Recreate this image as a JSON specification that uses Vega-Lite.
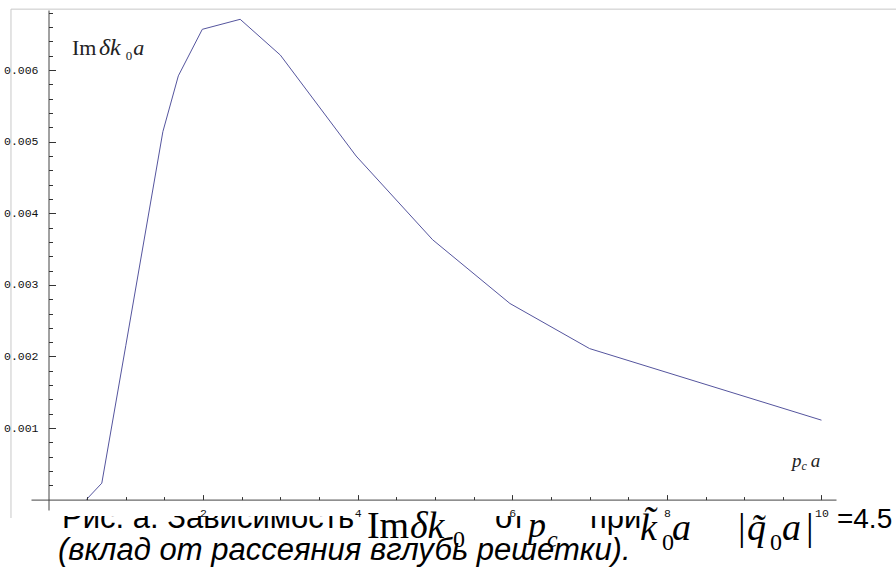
{
  "$schema": "https://vega.github.io/schema/vega-lite/v6.json",
  "width": 805,
  "height": 500,
  "autosize": {"type": "none"},
  "padding": {"left": 31, "top": 10, "right": 60, "bottom": 67},
  "background": "white",
  "config": {"view": {"stroke": null}, "axis": {"grid": false}},
  "data": {
    "values": [
      {"p": 0.49, "v": 0},
      {"p": 0.69, "v": 0.00023},
      {"p": 1.0, "v": 0.00215},
      {"p": 1.48, "v": 0.00514},
      {"p": 1.68, "v": 0.00592},
      {"p": 1.99, "v": 0.00657},
      {"p": 2.48, "v": 0.00671},
      {"p": 3.0, "v": 0.00621},
      {"p": 3.98, "v": 0.0048},
      {"p": 4.97, "v": 0.00363},
      {"p": 5.97, "v": 0.00274},
      {"p": 7.0, "v": 0.00211},
      {"p": 10.0, "v": 0.00111}
    ]
  },
  "resolve": {"axis": {"x": "independent", "y": "independent"}},
  "layer": [
    {
      "data": {"values": [{"t": "frame"}]},
      "mark": {"type": "rule", "color": "#c8c8c8", "strokeWidth": 1},
      "encoding": {
        "x": {"datum": -0.485, "type": "quantitative", "axis": null},
        "y": {"datum": 0.006852, "type": "quantitative", "axis": null},
        "y2": {"datum": -0.000257}
      }
    },
    {
      "data": {"values": [{"t": "frame"}]},
      "mark": {"type": "rule", "color": "#c8c8c8", "strokeWidth": 1},
      "encoding": {
        "x": {"datum": -0.485, "type": "quantitative", "axis": null},
        "x2": {"datum": 11.2},
        "y": {"datum": 0.006852, "type": "quantitative", "axis": null}
      }
    },
    {
      "data": {"values": [{"t": "Рис. а. Зависимость"}]},
      "mark": {"type": "text", "font": "Liberation Sans", "fontSize": 31, "align": "left", "baseline": "alphabetic", "color": "#000"},
      "encoding": {"x": {"datum": 0.175, "type": "quantitative", "axis": null}, "y": {"datum": -0.000397, "type": "quantitative", "axis": null}, "text": {"field": "t"}}
    },
    {
      "data": {"values": [{"t": "от"}]},
      "mark": {"type": "text", "font": "Liberation Sans", "fontSize": 31, "align": "left", "baseline": "alphabetic", "color": "#000"},
      "encoding": {"x": {"datum": 5.776, "type": "quantitative", "axis": null}, "y": {"datum": -0.000397, "type": "quantitative", "axis": null}, "text": {"field": "t"}}
    },
    {
      "data": {"values": [{"t": "при"}]},
      "mark": {"type": "text", "font": "Liberation Sans", "fontSize": 31, "align": "left", "baseline": "alphabetic", "color": "#000"},
      "encoding": {"x": {"datum": 7.005, "type": "quantitative", "axis": null}, "y": {"datum": -0.000397, "type": "quantitative", "axis": null}, "text": {"field": "t"}}
    },
    {
      "data": {"values": [{"t": "mask"}]},
      "mark": {"type": "rect", "color": "white"},
      "encoding": {
        "x": {"datum": -0.45, "type": "quantitative", "axis": null},
        "x2": {"datum": 10.19},
        "y": {"datum": 0, "type": "quantitative", "axis": null},
        "y2": {"datum": -0.000229}
      }
    },
    {
      "data": {"values": [{"t": "=4.5"}]},
      "mark": {"type": "text", "font": "Liberation Sans", "fontSize": 28, "align": "left", "baseline": "alphabetic", "color": "#000"},
      "encoding": {"x": {"datum": 10.2, "type": "quantitative", "axis": null}, "y": {"datum": -0.000397, "type": "quantitative", "axis": null}, "text": {"field": "t"}}
    },
    {
      "mark": {"type": "line", "color": "#55559e", "strokeWidth": 1},
      "encoding": {
        "x": {
          "field": "p", "type": "quantitative",
          "scale": {"domain": [-0.226, 10.188], "nice": false, "zero": false},
          "axis": {
            "title": null, "orient": "bottom", "offset": -10.4, "zindex": 1,
            "values": [2, 4, 6, 8, 10],
            "format": "d",
            "tickSize": -5,
            "labelPadding": 13, "labelFlush": false, "labelOverlap": false,
            "labelFont": "Liberation Mono", "labelFontSize": 11.5, "labelColor": "#111",
            "domainColor": "#444", "tickColor": "#333", "tickWidth": 1, "domainWidth": 1
          }
        },
        "y": {
          "field": "v", "type": "quantitative",
          "scale": {"domain": [-0.000145, 0.00684], "nice": false, "zero": false},
          "axis": {
            "title": null, "orient": "left", "offset": -17.5, "zindex": 1,
            "values": [0.001, 0.002, 0.003, 0.004, 0.005, 0.006],
            "format": ".3f",
            "tickSize": -7,
            "labelPadding": 17.5, "labelFlush": false, "labelOverlap": false,
            "labelFont": "Liberation Mono", "labelFontSize": 11.5, "labelColor": "#111",
            "domainColor": "#444", "tickColor": "#333", "tickWidth": 1, "domainWidth": 1
          }
        }
      }
    },
    {
      "mark": {"type": "line", "opacity": 0},
      "encoding": {
        "x": {
          "field": "p", "type": "quantitative",
          "axis": {
            "title": null, "orient": "bottom", "offset": -10.4, "zindex": 1,
            "values": [0.5, 1, 1.5, 2.5, 3, 3.5, 4.5, 5, 5.5, 6.5, 7, 7.5, 8.5, 9, 9.5],
            "labels": false, "domain": false,
            "tickSize": -3, "tickColor": "#333", "tickWidth": 1
          }
        },
        "y": {
          "field": "v", "type": "quantitative",
          "axis": {
            "title": null, "orient": "left", "offset": -17.5, "zindex": 1,
            "values": [0.0002, 0.0004, 0.0006, 0.0008, 0.0012, 0.0014, 0.0016, 0.0018, 0.0022, 0.0024, 0.0026, 0.0028, 0.0032, 0.0034, 0.0036, 0.0038, 0.0042, 0.0044, 0.0046, 0.0048, 0.0052, 0.0054, 0.0056, 0.0058, 0.0062, 0.0064, 0.0066, 0.0068],
            "labels": false, "domain": false,
            "tickSize": -4, "tickColor": "#333", "tickWidth": 1
          }
        }
      }
    },
    {
      "data": {"values": [{"t": "Im"}]},
      "mark": {"type": "text", "font": "Liberation Serif", "fontSize": 22, "align": "left", "baseline": "alphabetic", "color": "#222"},
      "encoding": {"x": {"datum": 0.304, "type": "quantitative", "axis": null}, "y": {"datum": 0.006211, "type": "quantitative", "axis": null}, "text": {"field": "t"}}
    },
    {
      "data": {"values": [{"t": "δk"}]},
      "mark": {"type": "text", "font": "Liberation Serif", "fontSize": 24, "fontStyle": "italic", "align": "left", "baseline": "alphabetic", "color": "#222"},
      "encoding": {"x": {"datum": 0.653, "type": "quantitative", "axis": null}, "y": {"datum": 0.006211, "type": "quantitative", "axis": null}, "text": {"field": "t"}}
    },
    {
      "data": {"values": [{"t": "0"}]},
      "mark": {"type": "text", "font": "Liberation Serif", "fontSize": 13, "align": "left", "baseline": "alphabetic", "color": "#222"},
      "encoding": {"x": {"datum": 1.0, "type": "quantitative", "axis": null}, "y": {"datum": 0.006141, "type": "quantitative", "axis": null}, "text": {"field": "t"}}
    },
    {
      "data": {"values": [{"t": "a"}]},
      "mark": {"type": "text", "font": "Liberation Serif", "fontSize": 22, "fontStyle": "italic", "align": "left", "baseline": "alphabetic", "color": "#222"},
      "encoding": {"x": {"datum": 1.097, "type": "quantitative", "axis": null}, "y": {"datum": 0.006211, "type": "quantitative", "axis": null}, "text": {"field": "t"}}
    },
    {
      "data": {"values": [{"t": "p"}]},
      "mark": {"type": "text", "font": "Liberation Serif", "fontSize": 19, "fontStyle": "italic", "align": "left", "baseline": "alphabetic", "color": "#222"},
      "encoding": {"x": {"datum": 9.618, "type": "quantitative", "axis": null}, "y": {"datum": 0.000455, "type": "quantitative", "axis": null}, "text": {"field": "t"}}
    },
    {
      "data": {"values": [{"t": "c"}]},
      "mark": {"type": "text", "font": "Liberation Serif", "fontSize": 12, "fontStyle": "italic", "align": "left", "baseline": "alphabetic", "color": "#222"},
      "encoding": {"x": {"datum": 9.741, "type": "quantitative", "axis": null}, "y": {"datum": 0.000413, "type": "quantitative", "axis": null}, "text": {"field": "t"}}
    },
    {
      "data": {"values": [{"t": "a"}]},
      "mark": {"type": "text", "font": "Liberation Serif", "fontSize": 19, "fontStyle": "italic", "align": "left", "baseline": "alphabetic", "color": "#222"},
      "encoding": {"x": {"datum": 9.86, "type": "quantitative", "axis": null}, "y": {"datum": 0.000455, "type": "quantitative", "axis": null}, "text": {"field": "t"}}
    },
    {
      "data": {"values": [{"t": "Im"}]},
      "mark": {"type": "text", "font": "Liberation Serif", "fontSize": 38, "align": "left", "baseline": "alphabetic", "color": "#000"},
      "encoding": {"x": {"datum": 4.12, "type": "quantitative", "axis": null}, "y": {"datum": -0.000536, "type": "quantitative", "axis": null}, "text": {"field": "t"}}
    },
    {
      "data": {"values": [{"t": "δk"}]},
      "mark": {"type": "text", "font": "Liberation Serif", "fontSize": 38, "fontStyle": "italic", "align": "left", "baseline": "alphabetic", "color": "#000"},
      "encoding": {"x": {"datum": 4.676, "type": "quantitative", "axis": null}, "y": {"datum": -0.000536, "type": "quantitative", "axis": null}, "text": {"field": "t"}}
    },
    {
      "data": {"values": [{"t": "0"}]},
      "mark": {"type": "text", "font": "Liberation Serif", "fontSize": 24, "align": "left", "baseline": "alphabetic", "color": "#000"},
      "encoding": {"x": {"datum": 5.233, "type": "quantitative", "axis": null}, "y": {"datum": -0.000662, "type": "quantitative", "axis": null}, "text": {"field": "t"}}
    },
    {
      "data": {"values": [{"t": "p"}]},
      "mark": {"type": "text", "font": "Liberation Serif", "fontSize": 36, "fontStyle": "italic", "align": "left", "baseline": "alphabetic", "color": "#000"},
      "encoding": {"x": {"datum": 6.203, "type": "quantitative", "axis": null}, "y": {"datum": -0.000524, "type": "quantitative", "axis": null}, "text": {"field": "t"}}
    },
    {
      "data": {"values": [{"t": "c"}]},
      "mark": {"type": "text", "font": "Liberation Serif", "fontSize": 24, "fontStyle": "italic", "align": "left", "baseline": "alphabetic", "color": "#000"},
      "encoding": {"x": {"datum": 6.449, "type": "quantitative", "axis": null}, "y": {"datum": -0.000662, "type": "quantitative", "axis": null}, "text": {"field": "t"}}
    },
    {
      "data": {"values": [{"t": "k̃"}]},
      "mark": {"type": "text", "font": "Liberation Serif", "fontSize": 38, "fontStyle": "italic", "align": "left", "baseline": "alphabetic", "color": "#000"},
      "encoding": {"x": {"datum": 7.652, "type": "quantitative", "axis": null}, "y": {"datum": -0.000564, "type": "quantitative", "axis": null}, "text": {"field": "t"}}
    },
    {
      "data": {"values": [{"t": "0"}]},
      "mark": {"type": "text", "font": "Liberation Serif", "fontSize": 24, "align": "left", "baseline": "alphabetic", "color": "#000"},
      "encoding": {"x": {"datum": 7.937, "type": "quantitative", "axis": null}, "y": {"datum": -0.000704, "type": "quantitative", "axis": null}, "text": {"field": "t"}}
    },
    {
      "data": {"values": [{"t": "a"}]},
      "mark": {"type": "text", "font": "Liberation Serif", "fontSize": 38, "fontStyle": "italic", "align": "left", "baseline": "alphabetic", "color": "#000"},
      "encoding": {"x": {"datum": 8.066, "type": "quantitative", "axis": null}, "y": {"datum": -0.000564, "type": "quantitative", "axis": null}, "text": {"field": "t"}}
    },
    {
      "data": {"values": [{"t": "|"}]},
      "mark": {"type": "text", "font": "Liberation Serif", "fontSize": 38, "align": "left", "baseline": "alphabetic", "color": "#000"},
      "encoding": {"x": {"datum": 8.92, "type": "quantitative", "axis": null}, "y": {"datum": -0.000564, "type": "quantitative", "axis": null}, "text": {"field": "t"}}
    },
    {
      "data": {"values": [{"t": "q̃"}]},
      "mark": {"type": "text", "font": "Liberation Serif", "fontSize": 38, "fontStyle": "italic", "align": "left", "baseline": "alphabetic", "color": "#000"},
      "encoding": {"x": {"datum": 9.036, "type": "quantitative", "axis": null}, "y": {"datum": -0.000564, "type": "quantitative", "axis": null}, "text": {"field": "t"}}
    },
    {
      "data": {"values": [{"t": "0"}]},
      "mark": {"type": "text", "font": "Liberation Serif", "fontSize": 24, "align": "left", "baseline": "alphabetic", "color": "#000"},
      "encoding": {"x": {"datum": 9.334, "type": "quantitative", "axis": null}, "y": {"datum": -0.000704, "type": "quantitative", "axis": null}, "text": {"field": "t"}}
    },
    {
      "data": {"values": [{"t": "a"}]},
      "mark": {"type": "text", "font": "Liberation Serif", "fontSize": 38, "fontStyle": "italic", "align": "left", "baseline": "alphabetic", "color": "#000"},
      "encoding": {"x": {"datum": 9.489, "type": "quantitative", "axis": null}, "y": {"datum": -0.000564, "type": "quantitative", "axis": null}, "text": {"field": "t"}}
    },
    {
      "data": {"values": [{"t": "|"}]},
      "mark": {"type": "text", "font": "Liberation Serif", "fontSize": 38, "align": "left", "baseline": "alphabetic", "color": "#000"},
      "encoding": {"x": {"datum": 9.8, "type": "quantitative", "axis": null}, "y": {"datum": -0.000564, "type": "quantitative", "axis": null}, "text": {"field": "t"}}
    },
    {
      "data": {"values": [{"t": "(вклад от рассеяния вглубь решетки)."}]},
      "mark": {"type": "text", "font": "Liberation Sans", "fontSize": 31, "fontStyle": "italic", "align": "left", "baseline": "alphabetic", "color": "#000"},
      "encoding": {"x": {"datum": 0.123, "type": "quantitative", "axis": null}, "y": {"datum": -0.00084, "type": "quantitative", "axis": null}, "text": {"field": "t"}}
    }
  ]
}
